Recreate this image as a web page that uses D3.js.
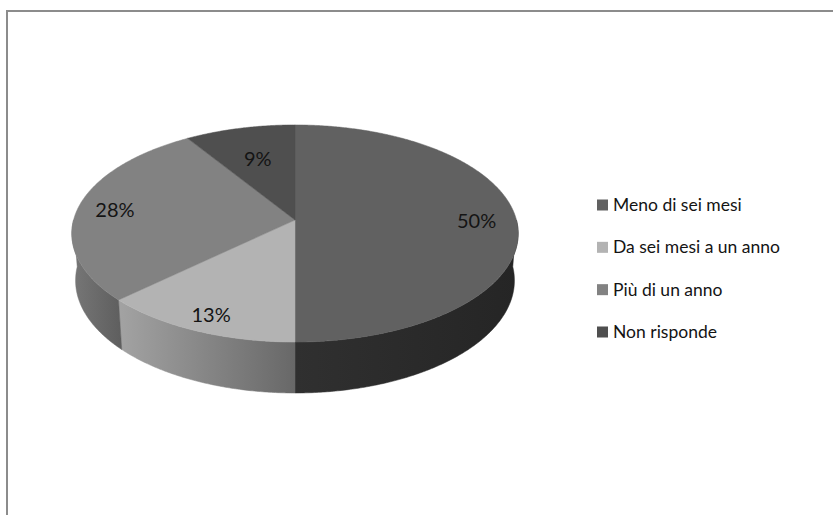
<!DOCTYPE html>
<html>
<head>
<meta charset="utf-8">
<script src="https://cdn.jsdelivr.net/npm/d3@7"></script>
<style>
  html, body { margin: 0; padding: 0; background: #fff; }
  svg { display: block; }
</style>
</head>
<body>
<svg id="chart" width="833" height="515"></svg>
<script>
// ---- data ----
const categories = ["Meno di sei mesi", "Da sei mesi a un anno", "Più di un anno", "Non risponde"];
const values = [50, 13, 28, 9];
const valueLabels = ["50%", "13%", "28%", "9%"];

// ---- styles ----
const topColors = ["#616161", "#b3b3b3", "#828282", "#4f4f4f"];
const sideFrom = ["#303030", "#a3a3a3", "#777777", "#3a3a3a"];
const sideTo   = ["#252525", "#686868", "#5e5e5e", "#2a2a2a"];

const W = 833, H = 515;
const svg = d3.select("#chart");

// frame
svg.append("path")
  .attr("d", `M7,${H + 5} L7,11 L${W + 5},11`)
  .attr("fill", "none")
  .attr("stroke", "#8c8c8c")
  .attr("stroke-width", 2);

// ---- 3D perspective projection ----
const cx = 295, cy = 220;
const alpha = Math.asin(0.4826);
const sa = Math.sin(alpha), ca = Math.cos(alpha);
const f = 1559, Dcam = 7.04, depth = 0.245;

function proj(theta, r, Y) {
  const X = r * Math.sin(theta), Z = -r * Math.cos(theta);
  const yc = Z * sa - Y * ca;
  const zc = Dcam - Z * ca - Y * sa;
  return [cx + f * X / zc, cy + f * yc / zc];
}
function arcPts(a0, a1, r, Y) {
  const n = Math.max(2, Math.ceil(Math.abs(a1 - a0) / (Math.PI / 360)));
  return d3.range(n + 1).map(i => proj(a0 + (a1 - a0) * i / n, r, Y));
}

const pie = d3.pie().sort(null).startAngle(0).endAngle(2 * Math.PI);
const arcs = pie(values);
const line = d3.line();

const defs = svg.append("defs");
const gSides = svg.append("g");
const gTops = svg.append("g");
const gLabels = svg.append("g");

// sides (front half only)
arcs.forEach((d, i) => {
  const t0 = Math.max(d.startAngle, Math.PI / 2);
  const t1 = Math.min(d.endAngle, 3 * Math.PI / 2);
  if (t1 <= t0) return;
  const top = arcPts(t0, t1, 1, 0);
  const bot = arcPts(t1, t0, 1, -depth);
  const pts = top.concat(bot);
  const xs = pts.map(p => p[0]);
  const gid = "side" + i;
  const grad = defs.append("linearGradient")
    .attr("id", gid).attr("gradientUnits", "userSpaceOnUse")
    .attr("x1", d3.min(xs)).attr("x2", d3.max(xs)).attr("y1", 0).attr("y2", 0);
  grad.append("stop").attr("offset", 0).attr("stop-color", sideFrom[i]);
  grad.append("stop").attr("offset", 1).attr("stop-color", sideTo[i]);
  gSides.append("path")
    .attr("d", line(pts) + "Z")
    .attr("fill", `url(#${gid})`)
    .attr("stroke", `url(#${gid})`)
    .attr("stroke-width", 0.5);
});

// top faces
arcs.forEach((d, i) => {
  const pts = [proj(0, 0, 0)].concat(arcPts(d.startAngle, d.endAngle, 1, 0));
  gTops.append("path")
    .attr("d", line(pts) + "Z")
    .attr("fill", topColors[i])
    .attr("stroke", topColors[i])
    .attr("stroke-width", 0.5);
});

// value labels
const labelR = [0.82, 0.86, 0.83, 0.65];
arcs.forEach((d, i) => {
  const mid = (d.startAngle + d.endAngle) / 2;
  const p = proj(mid, labelR[i], 0);
  gLabels.append("text")
    .attr("x", p[0]).attr("y", p[1])
    .attr("text-anchor", "middle")
    .attr("dominant-baseline", "central")
    .attr("font-family", "Lato, 'Open Sans', sans-serif")
    .attr("font-size", 20)
    .attr("fill", "#141414")
    .text(valueLabels[i]);
});

// legend
const legY = d3.scalePoint().domain(categories).range([211, 338]);
const gLeg = svg.append("g");
categories.forEach((c, i) => {
  const y = legY(c);
  gLeg.append("rect")
    .attr("x", 597).attr("y", y - 11.5)
    .attr("width", 11).attr("height", 11)
    .attr("fill", topColors[i]);
  gLeg.append("text")
    .attr("x", 613).attr("y", y)
    .attr("font-family", "Lato, 'Open Sans', sans-serif")
    .attr("font-size", 17.5)
    .attr("fill", "#141414")
    .text(c);
});
</script>
</body>
</html>
